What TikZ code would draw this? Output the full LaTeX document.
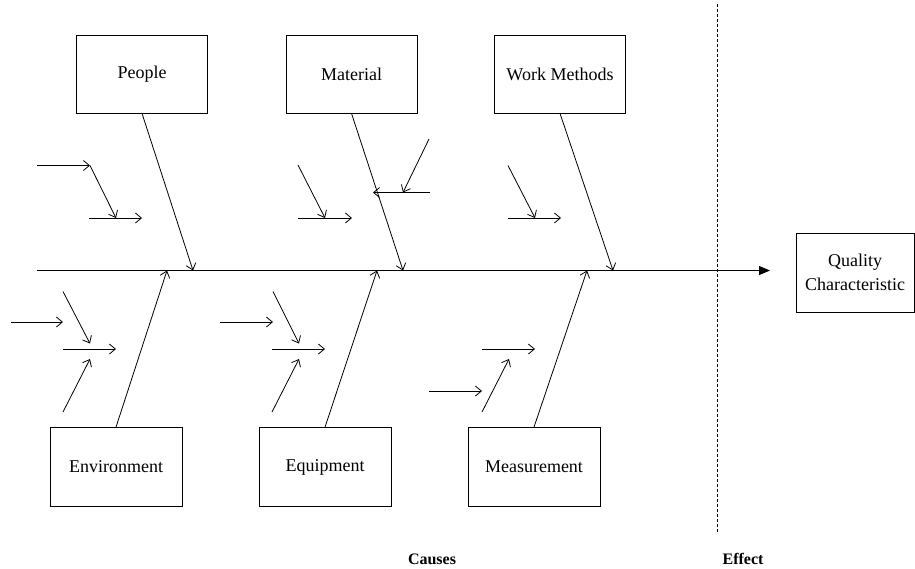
\documentclass[tikz,border=0pt]{standalone}
\usepackage{fontspec}
\setmainfont{Liberation Serif}
\usetikzlibrary{arrows.meta}
\begin{document}
\begin{tikzpicture}[x=1pt,y=-1pt,
  line width=0.8pt,
  catbox/.style={draw, line width=0.8pt, minimum width=131pt, minimum height=78pt,
                 inner sep=0pt, font=\fontsize{18}{24}\selectfont},
  bone/.style={-{Straight Barb[length=6pt,width=10pt]}},
  cause/.style={-{Straight Barb[length=6pt,width=10pt]}},
  spine/.style={-{Triangle[length=11pt,width=9pt]}},
  sidelabel/.style={font=\fontsize{16}{19}\selectfont\bfseries}]
\useasboundingbox (0,0) rectangle (915,568);

% category boxes
\node[catbox] (people)  at (142,74)   {People};
\node[catbox] (material) at (351.5,74) {Material};
\node[catbox] (methods) at (560,74)   {Work Methods};
\node[catbox, minimum width=132pt, minimum height=79pt] (environment) at (116,467) {Environment};
\node[catbox, minimum width=132pt, minimum height=79pt] (equipment)   at (325,467) {Equipment};
\node[catbox, minimum width=132pt, minimum height=79pt] (measurement) at (534,467) {Measurement};
\node[catbox, minimum width=118pt, minimum height=79pt, align=center] (quality) at (855,272.5)
  {Quality\\Characteristic};

% spine
\coordinate (tail) at (37,270.5);
\coordinate (head) at (770,270.5);
\draw[spine] (tail) -- (head);

% dashed divider between causes and effect
\coordinate (divtop) at (717,4);
\coordinate (divbot) at (717,533);
\draw[dash pattern=on 3pt off 2pt] (divtop) -- (divbot);

% junctions of the main bones on the spine
\coordinate (jpeople)   at (193,270.5);
\coordinate (jmaterial) at (403,270.5);
\coordinate (jmethods)  at (613,270.5);
\coordinate (jenv)      at (167,270.5);
\coordinate (jequip)    at (377,270.5);
\coordinate (jmeas)     at (587,270.5);

\draw[bone] (people.south) -- (jpeople);
\draw[bone] (material.south) -- (jmaterial);
\draw[bone] (methods.south) -- (jmethods);
\draw[bone] (environment.north) -- (jenv);
\draw[bone] (equipment.north) -- (jequip);
\draw[bone] (measurement.north) -- (jmeas);

% sub-causes: People
\coordinate (p1a) at (37,165.5);
\coordinate (p1b) at (90,165.5);
\coordinate (p2b) at (116,218);
\coordinate (p3a) at (89,218);
\coordinate (p3b) at (142,218);
\draw[cause] (p1a) -- (p1b);
\draw[cause] (p1b) -- (p2b);
\draw[cause] (p3a) -- (p3b);

% sub-causes: Material
\coordinate (m1a) at (298,165);
\coordinate (m1b) at (325,218);
\coordinate (m2a) at (298,218);
\coordinate (m2b) at (352,218);
\coordinate (m3a) at (429,139);
\coordinate (m3b) at (403,192.5);
\coordinate (m4a) at (430,192.5);
\coordinate (m4b) at (373,192.5);
\draw[cause] (m1a) -- (m1b);
\draw[cause] (m2a) -- (m2b);
\draw[cause] (m3a) -- (m3b);
\draw[cause] (m4a) -- (m4b);

% sub-causes: Work Methods
\coordinate (w1a) at (508,165.5);
\coordinate (w1b) at (535,218);
\coordinate (w2a) at (508,218);
\coordinate (w2b) at (561,218);
\draw[cause] (w1a) -- (w1b);
\draw[cause] (w2a) -- (w2b);

% sub-causes: Environment
\coordinate (e1a) at (63,291.5);
\coordinate (e1b) at (90,343.5);
\coordinate (e2a) at (11,322);
\coordinate (e2b) at (63,322);
\coordinate (e3a) at (63,349);
\coordinate (e3b) at (116,349);
\coordinate (e4a) at (63,412);
\coordinate (e4b) at (90,359);
\draw[cause] (e1a) -- (e1b);
\draw[cause] (e2a) -- (e2b);
\draw[cause] (e3a) -- (e3b);
\draw[cause] (e4a) -- (e4b);

% sub-causes: Equipment
\coordinate (q1a) at (273,291.5);
\coordinate (q1b) at (299,343.5);
\coordinate (q2a) at (220,322);
\coordinate (q2b) at (273,322);
\coordinate (q3a) at (272,349);
\coordinate (q3b) at (325,349);
\coordinate (q4a) at (272,412);
\coordinate (q4b) at (299,359);
\draw[cause] (q1a) -- (q1b);
\draw[cause] (q2a) -- (q2b);
\draw[cause] (q3a) -- (q3b);
\draw[cause] (q4a) -- (q4b);

% sub-causes: Measurement
\coordinate (s1a) at (482,349);
\coordinate (s1b) at (535,349);
\coordinate (s2a) at (482,412);
\coordinate (s2b) at (509,359);
\coordinate (s3a) at (429,391);
\coordinate (s3b) at (482,391);
\draw[cause] (s1a) -- (s1b);
\draw[cause] (s2a) -- (s2b);
\draw[cause] (s3a) -- (s3b);

% section labels
\node[sidelabel, anchor=base] (causes) at (432,564) {Causes};
\node[sidelabel, anchor=base] (effect) at (743,564) {Effect};
\end{tikzpicture}
\end{document}
